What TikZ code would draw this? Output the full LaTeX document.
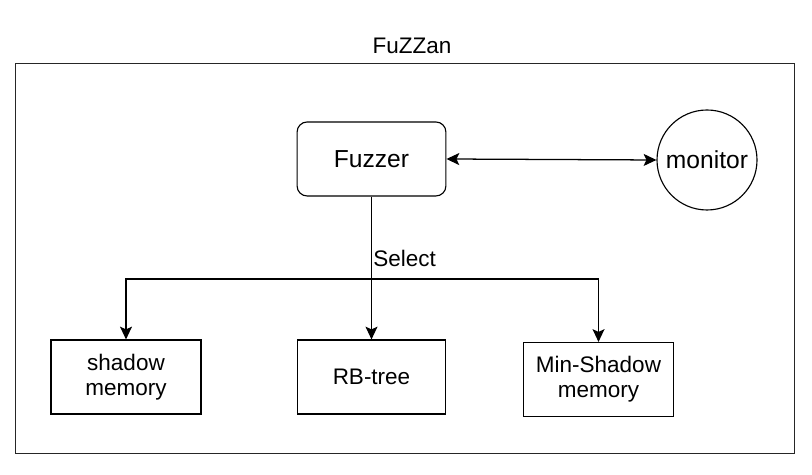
\documentclass[tikz,border=0pt]{standalone}
\usepackage{fontspec}
\setmainfont{Liberation Sans}
\usetikzlibrary{positioning, arrows.meta, calc}
\tikzset{
	>={Stealth[length=3.2mm, width=3mm, inset=0.7mm]},
	boxnode/.style={
			rectangle,
			draw=black,
			line width=0.8pt,
			fill=white,
			minimum width=37.5mm,
			minimum height=18.5mm,
			inner sep=0pt,
			align=center,
			font=\fontsize{16}{18}\selectfont
		},
	fuzzernode/.style={
			boxnode,
			minimum width=37.2mm,
			rounded corners=2.5mm,
			font=\fontsize{17.5}{20}\selectfont
		},
	monitornode/.style={
			circle,
			draw=black,
			line width=0.8pt,
			minimum size=25mm,
			inner sep=0pt,
			font=\fontsize{17.5}{20}\selectfont
		},
	framenode/.style={
			rectangle,
			draw=black!85,
			line width=0.7pt,
			minimum width=194.75mm,
			minimum height=97.25mm,
			inner sep=0pt
		},
	link/.style={
			line width=0.9pt,
			->
		},
	duallink/.style={
			link,
			<->
		}
}

\begin{document}
\begin{tikzpicture}

\useasboundingbox (0,0) rectangle (20.3,11.875);

\node[framenode] (frame) at (10.1125,5.4125) {};
\node[font=\fontsize{16}{18}\selectfont] (title) at (10.3,10.725) {FuZZan};

\node[fuzzernode] (fuzzer) at (9.2875,7.9) {Fuzzer};
\node[monitornode] (monitor) at (17.675,7.875) {monitor};

\node[boxnode] (shadow) at (3.15,2.45) {shadow\\memory};
\node[boxnode, minimum width=37.2mm] (rbtree) at (9.2875,2.45) {RB-tree};
\node[boxnode] (minshadow) at (14.9625,2.3875) {Min-Shadow\\memory};

\coordinate (split) at (9.2875,4.9);
\node[anchor=west, inner sep=0pt, font=\fontsize{16}{18}\selectfont] (select) at (9.33,5.425) {Select};

\draw[duallink] (fuzzer.east) -- (monitor.west);
\draw[link] (fuzzer.south) -- (rbtree.north);
\draw[link] (split) -| (shadow.north);
\draw[link] (split) -| (minshadow.north);

\end{tikzpicture}
\end{document}
